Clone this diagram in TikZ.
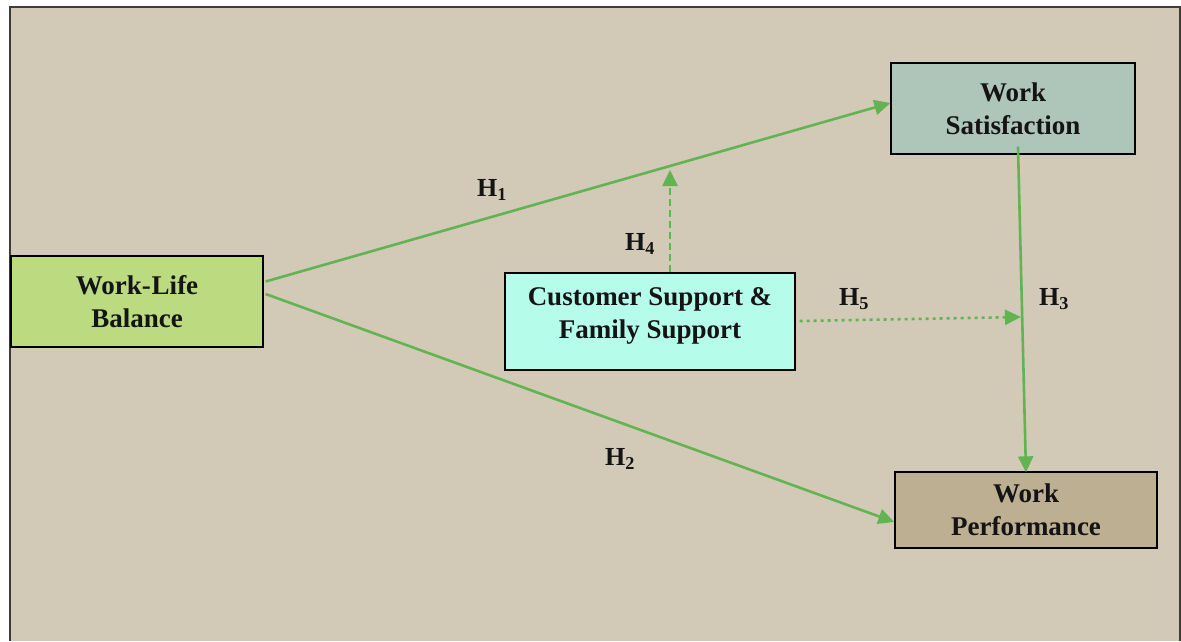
\documentclass[tikz,border=0pt]{standalone}
\usepackage{fontspec}
\setmainfont{Liberation Serif}
\usetikzlibrary{arrows.meta}
\definecolor{bgc}{RGB}{210,202,183}
\definecolor{framec}{RGB}{60,60,60}
\definecolor{arrc}{RGB}{98,180,82}
\definecolor{wlbc}{RGB}{188,219,128}
\definecolor{wsc}{RGB}{174,197,185}
\definecolor{csc}{RGB}{182,252,234}
\definecolor{wpc}{RGB}{189,176,146}
\definecolor{txtc}{RGB}{20,20,20}
\tikzset{
  boxnode/.style={draw=black, line width=1.3pt, inner sep=0pt, align=center,
    text=txtc, font=\fontsize{27}{33}\selectfont\bfseries},
  boxtext/.style={text=txtc, align=center, inner sep=0pt,
    font=\fontsize{27}{33}\selectfont\bfseries},
  hlabel/.style={text=txtc, font=\fontsize{26}{30}\selectfont\bfseries, inner sep=0pt},
  arr/.style={draw=arrc, line width=2.6pt, -{Triangle[length=16pt,width=15pt]}},
  dasharr/.style={arr, dash pattern=on 7pt off 4pt},
  dotarr/.style={arr, dash pattern=on 3pt off 4pt}
}
\begin{document}
\begin{tikzpicture}[x=1pt,y=-1pt]
\useasboundingbox (0,0) rectangle (1181,641);
\fill[white] (0,0) rectangle (1181,641);
\fill[bgc] (10,7) rectangle (1180,641);
\draw[framec, line width=2pt] (10,641) -- (10,7) -- (1180,7) -- (1180,641);

\node[boxnode, fill=wlbc, minimum width=252pt, minimum height=91pt] (wlb) at (137,301.5) {Work-{\kern1pt}Life\\Balance};
\node[boxnode, fill=wsc, minimum width=244pt, minimum height=91pt] (ws) at (1013,108.5) {Work\\Satisfaction};
\node[boxnode, fill=csc, minimum width=290pt, minimum height=97pt] (cs) at (650,321.5) {};
\node[boxtext] (cstext) at (650,316) {Customer Support \&\\Family Support};
\node[boxnode, fill=wpc, minimum width=262pt, minimum height=76pt] (wp) at (1026,510) {Work\\Performance};

\coordinate (h4end) at (670,170);
\coordinate (h5end) at (1021,317);

\draw[arr] ([yshift=20pt,xshift=2pt]wlb.east) -- ([yshift=5.5pt]ws.west);
\draw[arr] ([yshift=7.5pt,xshift=2pt]wlb.east) -- ([yshift=-12pt]wp.west);
\draw[arr] ([xshift=5pt,yshift=8pt]ws.south) -- ([yshift=-1pt]wp.north);
\draw[dasharr] ([xshift=20pt]cs.north) -- (h4end);
\draw[dotarr] ([xshift=4pt,yshift=0.5pt]cs.east) -- (h5end);

\node[hlabel] (h1) at (492,190) {H\textsubscript{1}};
\node[hlabel] (h2) at (620,459) {H\textsubscript{2}};
\node[hlabel] (h3) at (1054,299) {H\textsubscript{3}};
\node[hlabel] (h4) at (640,244) {H\textsubscript{4}};
\node[hlabel] (h5) at (854,299) {H\textsubscript{5}};
\end{tikzpicture}
\end{document}
